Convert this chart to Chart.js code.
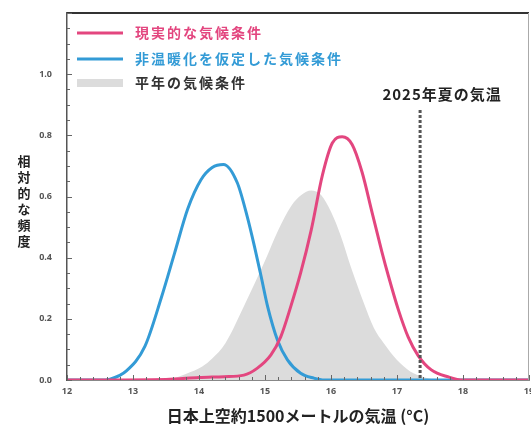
<!DOCTYPE html>
<html>
<head>
<meta charset="utf-8">
<script src="https://cdn.jsdelivr.net/npm/chart.js@4.4.1/dist/chart.umd.min.js"></script>
<style>
  html, body { margin: 0; padding: 0; background: #fff; overflow: hidden; }
  #wrap { width: 531px; height: 426px; overflow: hidden; }
</style>
</head>
<body>
<div id="wrap"><canvas id="chart-temp" width="541" height="426"></canvas></div>
<script>
// 気温 (°C) と相対的な頻度
var actualTemps = [12.0, 13.5, 14.0, 14.38, 14.68, 14.88, 15.09, 15.24, 15.39, 15.54, 15.7, 15.87, 16.02, 16.17, 16.32, 16.47, 16.62, 16.77, 16.87, 17.02, 17.17, 17.32, 17.52, 17.78, 18.0, 19.0];
var actualFreq  = [0.0, 0.002, 0.008, 0.011, 0.016, 0.038, 0.082, 0.142, 0.24, 0.35, 0.49, 0.67, 0.775, 0.795, 0.77, 0.68, 0.55, 0.42, 0.34, 0.23, 0.14, 0.08, 0.033, 0.01, 0.0, 0.0];

var noWarmingTemps = [12.0, 12.5, 12.65, 12.9, 13.18, 13.43, 13.63, 13.83, 14.03, 14.2, 14.37, 14.58, 14.73, 14.84, 14.94, 15.04, 15.19, 15.34, 15.54, 15.74, 15.9, 19.0];
var noWarmingFreq  = [0.0, 0.0, 0.003, 0.03, 0.11, 0.27, 0.415, 0.56, 0.655, 0.695, 0.705, 0.645, 0.535, 0.437, 0.34, 0.24, 0.13, 0.066, 0.022, 0.006, 0.0, 0.0];

var normalTemps = [13.4, 13.6, 13.8, 14.05, 14.2, 14.4, 14.7, 15.0, 15.2, 15.4, 15.55, 15.7, 15.85, 16.0, 16.15, 16.3, 16.5, 16.65, 16.8, 17.0, 17.2, 17.4, 17.6];
var normalFreq  = [0.0, 0.005, 0.02, 0.044, 0.07, 0.12, 0.25, 0.39, 0.49, 0.57, 0.605, 0.62, 0.605, 0.55, 0.47, 0.37, 0.25, 0.17, 0.12, 0.065, 0.028, 0.01, 0.0];

var summer2025Temp = 17.35;
var summer2025Label = "2025年夏の気温";

var xTicks = [12, 13, 14, 15, 16, 17, 18, 19];
var yTicks = [0.0, 0.2, 0.4, 0.6, 0.8, 1.0];

var seriesLabels = ["現実的な気候条件", "非温暖化を仮定した気候条件", "平年の気候条件"];
var xTitle = "日本上空約1500メートルの気温 (°C)";
var yTitle = "相対的な頻度";

var PINK = "#e3467f";
var BLUE = "#339bd6";
var GRAY = "#dcdcdc";
var JP = "'Noto Sans CJK JP', 'Noto Sans', sans-serif";

function toPoints(xs, ys) {
  var pts = [];
  for (var i = 0; i < xs.length; i++) {
    pts.push({ x: xs[i], y: ys[i] });
  }
  return pts;
}

// legend, 2025 marker, y title, inward ticks and frame
var extras = {
  id: "extras",
  afterDatasetsDraw: function(chart) {
    var ctx = chart.ctx;
    var area = chart.chartArea;
    var xs = chart.scales.x;
    var ys = chart.scales.y;
    ctx.save();

    // 2025 dashed line
    var px = xs.getPixelForValue(summer2025Temp);
    ctx.strokeStyle = "#555";
    ctx.lineWidth = 3;
    ctx.setLineDash([3, 2]);
    ctx.beginPath();
    ctx.moveTo(px, 110);
    ctx.lineTo(px, area.bottom);
    ctx.stroke();
    ctx.setLineDash([]);

    ctx.font = "bold 15px " + JP;
    ctx.letterSpacing = "1px";
    ctx.fillStyle = "#222";
    ctx.textAlign = "center";
    ctx.textBaseline = "middle";
    ctx.fillText(summer2025Label, px + 22, 94);

    // frame
    ctx.strokeStyle = "#333";
    ctx.lineWidth = 2;
    ctx.beginPath();
    ctx.moveTo(area.left, area.top);
    ctx.lineTo(area.right, area.top);
    ctx.stroke();
    ctx.strokeStyle = "#aaa";
    ctx.lineWidth = 1;
    ctx.beginPath();
    ctx.moveTo(area.right - 0.5, area.top);
    ctx.lineTo(area.right - 0.5, area.bottom);
    ctx.stroke();

    // inward ticks
    ctx.strokeStyle = "#666";
    ctx.lineWidth = 1;
    ctx.beginPath();
    for (var v = 0; v <= 1.2001; v += 0.05) {
      var py = Math.round(ys.getPixelForValue(v)) + 0.5;
      var major = Math.abs(v * 5 - Math.round(v * 5)) < 0.001;
      ctx.moveTo(area.left, py);
      ctx.lineTo(area.left + (major ? 5 : 3), py);
    }
    for (var t = 12; t <= 19.001; t += 0.2) {
      var tx = Math.round(xs.getPixelForValue(t)) + 0.5;
      var maj = Math.abs(t - Math.round(t)) < 0.001;
      ctx.moveTo(tx, area.bottom);
      ctx.lineTo(tx, area.bottom - (maj ? 5 : 3));
    }
    ctx.stroke();

    // legend
    var rows = [33, 59, 83];
    chart.data.datasets.forEach(function(ds, i) {
      var y = rows[i];
      if (ds.fill) {
        ctx.fillStyle = ds.backgroundColor;
        ctx.fillRect(77, y - 4, 46, 8);
      } else {
        ctx.strokeStyle = ds.borderColor;
        ctx.lineWidth = 3;
        ctx.beginPath();
        ctx.moveTo(77, y);
        ctx.lineTo(123, y);
        ctx.stroke();
      }
      ctx.font = "bold 14px " + JP;
      ctx.letterSpacing = "2px";
      ctx.fillStyle = ds.fill ? "#333" : ds.borderColor;
      ctx.textAlign = "left";
      ctx.textBaseline = "middle";
      ctx.fillText(ds.label, 135, y);
    });

    // vertical y title, one character per line
    ctx.font = "bold 13px " + JP;
    ctx.letterSpacing = "0px";
    ctx.fillStyle = "#222";
    ctx.textAlign = "center";
    for (var c = 0; c < yTitle.length; c++) {
      ctx.fillText(yTitle[c], 24, 161 + c * 16);
    }

    ctx.restore();
  }
};

var ctx = document.getElementById("chart-temp");

var data = {
  datasets: [
    {
      label: seriesLabels[0],
      data: toPoints(actualTemps, actualFreq),
      borderColor: PINK,
      borderWidth: 3,
      fill: false,
      pointRadius: 0,
      cubicInterpolationMode: "monotone"
    },
    {
      label: seriesLabels[1],
      data: toPoints(noWarmingTemps, noWarmingFreq),
      borderColor: BLUE,
      borderWidth: 3,
      fill: false,
      pointRadius: 0,
      cubicInterpolationMode: "monotone"
    },
    {
      label: seriesLabels[2],
      data: toPoints(normalTemps, normalFreq),
      borderColor: GRAY,
      backgroundColor: GRAY,
      borderWidth: 0,
      fill: "origin",
      pointRadius: 0,
      cubicInterpolationMode: "monotone"
    }
  ]
};

var options = {
  responsive: false,
  animation: false,
  layout: { padding: { left: 0, top: 13, right: 0, bottom: 0 } },
  plugins: {
    legend: { display: false },
    tooltip: { enabled: false }
  },
  scales: {
    x: {
      type: "linear",
      min: 12,
      max: 19,
      afterFit: function(scale) {
        scale.height = 46;
        scale.paddingLeft = 0;
        scale.paddingRight = 12;
      },
      afterBuildTicks: function(scale) {
        scale.ticks = xTicks.map(function(v) { return { value: v }; });
      },
      ticks: {
        padding: 6,
        color: "#555",
        font: { family: "'Noto Sans', sans-serif", size: 9, weight: "bold" },
        maxRotation: 0
      },
      grid: { display: false, drawTicks: false },
      border: { display: true, color: "#888", width: 1 },
      title: {
        display: true,
        text: xTitle,
        color: "#222",
        font: { family: JP, size: 16, weight: "bold" },
        padding: { top: 0, bottom: 0 }
      }
    },
    y: {
      min: 0,
      max: 1.2,
      afterFit: function(scale) {
        scale.width = 67;
        scale.paddingTop = 0;
        scale.paddingBottom = 0;
      },
      afterBuildTicks: function(scale) {
        scale.ticks = yTicks.map(function(v) { return { value: v }; });
      },
      ticks: {
        padding: 15,
        color: "#555",
        font: { family: "'Noto Sans', sans-serif", size: 9, weight: "bold" },
        callback: function(v) { return Number(v).toFixed(1); }
      },
      grid: { display: false, drawTicks: false },
      border: { display: true, color: "#555", width: 1.5 }
    }
  }
};

var chart = new Chart(ctx, {
  type: "line",
  data: data,
  options: options,
  plugins: [extras]
});
</script>
</body>
</html>
